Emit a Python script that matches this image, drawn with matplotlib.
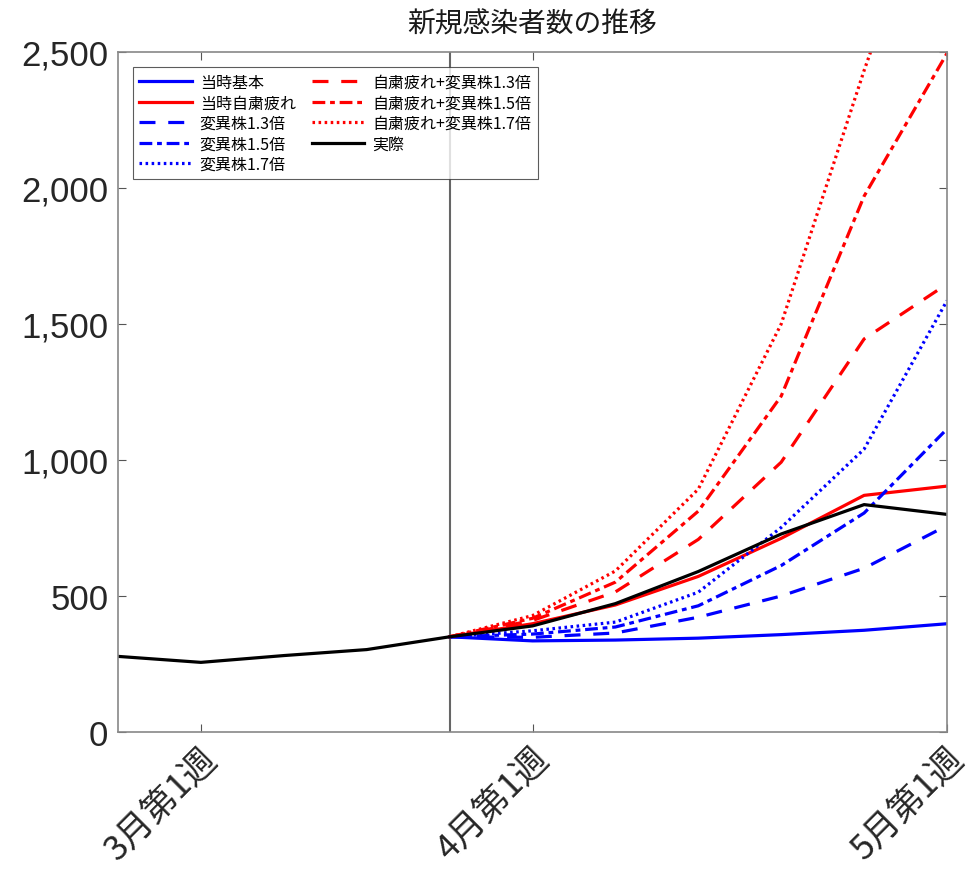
import matplotlib
matplotlib.use("Agg")
import matplotlib.pyplot as plt
from matplotlib.ticker import FuncFormatter
import matplotlib.transforms as mtransforms
import numpy as np

plt.rcParams['font.family'] = ['Noto Sans CJK JP', 'DejaVu Sans']

title = "新規感染者数の推移"
weeks = list(range(11))
tick_pos = [1, 5, 10]
tick_labels = ["3月第1週", "4月第1週", "5月第1週"]
vline_week = 4

actual = [278, 256, 281, 303, 350, 390, 472, 590, 728, 836, 800]

scen_weeks = [4, 5, 6, 7, 8, 9, 10]
base = [350, 335, 338, 345, 358, 374, 398]
jishuku = [350, 398, 467, 572, 712, 870, 904]
v13 = [350, 348, 364, 422, 500, 602, 759]
v15 = [350, 360, 386, 464, 612, 805, 1114]
v17 = [350, 372, 404, 514, 752, 1040, 1586]
j13 = [350, 410, 515, 708, 992, 1445, 1647]
j15 = [350, 418, 551, 812, 1235, 1970, 2495]
j17 = [350, 428, 592, 893, 1500, 2432, 3300]

fig = plt.figure(figsize=(9.72, 8.7), dpi=100)
ax = fig.add_axes([118/972, 1-733/870, (947-118)/972, (733-53)/870])

lw = 2.3
ax.axvline(vline_week, color='#666666', lw=1.5, zorder=1)
h = []
h += ax.plot(scen_weeks, base, color='#0000ff', lw=lw, ls='-', label='当時基本')
h += ax.plot(scen_weeks, jishuku, color='#ff0000', lw=lw, ls='-', label='当時自粛疲れ')
h += ax.plot(scen_weeks, v13, color='#0000ff', lw=lw, ls=(0, (5, 4)), label='変異株1.3倍')
h += ax.plot(scen_weeks, v15, color='#0000ff', lw=lw, ls=(0, (4, 1.5, 1.5, 1.5)), label='変異株1.5倍')
h += ax.plot(scen_weeks, v17, color='#0000ff', lw=lw, ls=(0, (0.8, 1.1)), label='変異株1.7倍')
h += ax.plot(scen_weeks, j13, color='#ff0000', lw=lw, ls=(0, (5, 4)), label='自粛疲れ+変異株1.3倍')
h += ax.plot(scen_weeks, j15, color='#ff0000', lw=lw, ls=(0, (4, 1.5, 1.5, 1.5)), label='自粛疲れ+変異株1.5倍')
h += ax.plot(scen_weeks, j17, color='#ff0000', lw=lw, ls=(0, (0.8, 1.1)), label='自粛疲れ+変異株1.7倍')
h += ax.plot(weeks, actual, color='black', lw=lw, ls='-', label='実際')

ax.set_yticks([0, 500, 1000, 1500, 2000, 2500])
ax.yaxis.set_major_formatter(FuncFormatter(lambda v, p: f"{int(v):,}"))
ax.set_xticks(tick_pos)

ax.tick_params(which='major', direction='in', length=6, width=0.8, color='#555555',
               top=True, right=True)
ax.tick_params(axis='y', pad=7)
ax.tick_params(axis='x', pad=15)

ax.set_xticklabels(tick_labels, rotation=45, ha='right', va='center',
                   rotation_mode='anchor', fontsize=25, color='#262626')
for lab in ax.get_yticklabels():
    lab.set_fontfamily(['Liberation Sans', 'DejaVu Sans'])
    lab.set_fontsize(25)
    lab.set_color('#262626')
for s in ax.spines.values():
    s.set_color('#888888')
    s.set_linewidth(1.2)

ax.set_xlim(0, 10)
ax.set_ylim(0, 2500)

ax.set_title(title, fontsize=20, pad=15, color='#1a1a1a')

leg = ax.legend(handles=h, ncol=2, loc='upper left', fontsize=11.5,
                bbox_to_anchor=(0.008, 0.989), frameon=True, fancybox=False,
                edgecolor='#333333', handlelength=3.3, labelspacing=0.22,
                columnspacing=1.0, borderpad=0.4, handletextpad=0.5)
leg.get_frame().set_linewidth(0.8)

# nudge rotated x tick labels to the right (applied after all tick_params calls)
shift = mtransforms.ScaledTranslation(11/100, 0, fig.dpi_scale_trans)
for tick in ax.xaxis.get_major_ticks():
    tick.label1.set_transform(tick.label1.get_transform() + shift)

fig.savefig('out.png', dpi=100)
